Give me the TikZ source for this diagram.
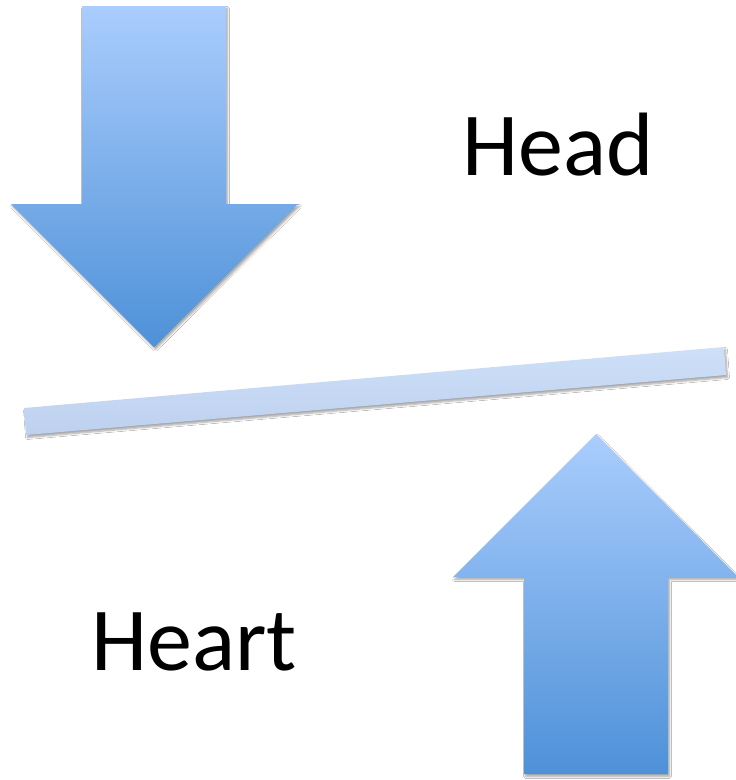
\documentclass[tikz,border=0pt]{standalone}
\usepackage{fontspec}
\setmainfont{Carlito}
\usetikzlibrary{shadows.blur}
\definecolor{arrtop}{HTML}{AACDFD}
\definecolor{arrbot}{HTML}{4E91D8}
\definecolor{bartop}{HTML}{CEE0F8}
\definecolor{barbot}{HTML}{BDD0EE}
\tikzset{
  bigarrow/.style={top color=arrtop, bottom color=arrbot, draw=none,
    blur shadow={shadow xshift=1.5pt, shadow yshift=-2.5pt, shadow blur steps=6, shadow opacity=35}},
  beam/.style={top color=bartop, bottom color=barbot, draw=none,
    blur shadow={shadow xshift=1.5pt, shadow yshift=-2.5pt, shadow blur steps=6, shadow opacity=35}},
  word/.style={font=\fontsize{90}{100}\selectfont, text=black, inner sep=0pt}
}
\begin{document}
\begin{tikzpicture}[x=1pt,y=-1pt]
\useasboundingbox[fill=white] (0,0) rectangle (736,780);
% down arrow
\path[bigarrow] (82,6) -- (226,6) -- (226,204) -- (298,204) -- (154,347) -- (11,204) -- (82,204) -- cycle;
% beam
\path[beam] (24,408) -- (724,347) -- (726,375) -- (26,435) -- cycle;
% up arrow
\path[bigarrow] (596,434) -- (738,577) -- (668,577) -- (668,774) -- (524,774) -- (524,577) -- (453,577) -- cycle;
% labels
\node[word, anchor=base] (head) at (558,175) {Head};
\node[word, anchor=base] (heart) at (194,670) {Heart};
\end{tikzpicture}
\end{document}
